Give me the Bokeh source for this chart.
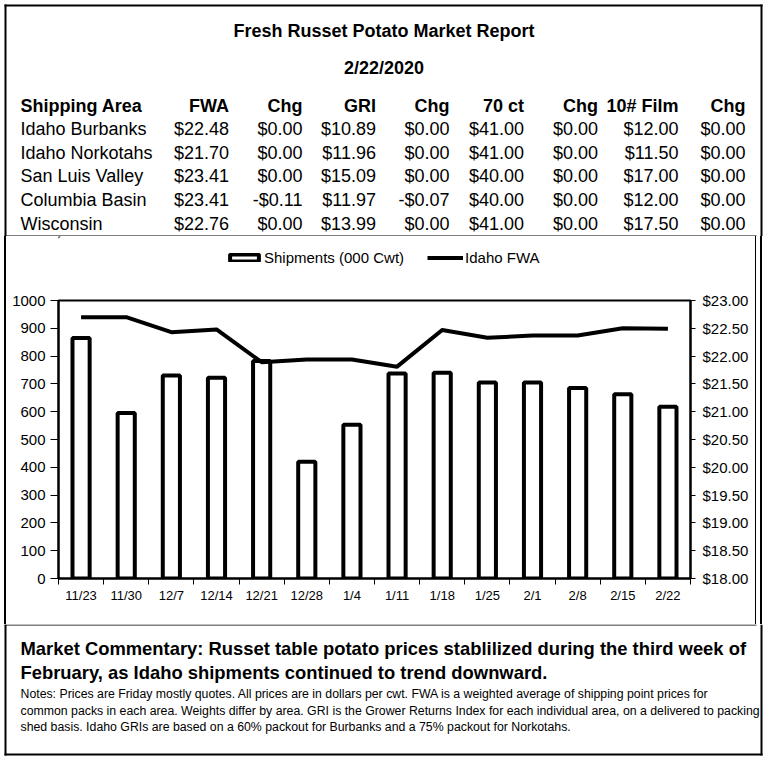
import numpy as np
from bokeh.plotting import figure
from bokeh.layouts import column, row
from bokeh.models import (Range1d, LinearAxis, FixedTicker, NumeralTickFormatter, Legend,
                          LegendItem, Spacer)
from bokeh.core.properties import value
from bokeh.embed import file_html
from bokeh.resources import INLINE

FONT = "Liberation Sans"

# ---------------- data ----------------
report_title = "Fresh Russet Potato Market Report"
report_date = "2/22/2020"
headers = ["Shipping Area", "FWA", "Chg", "GRI", "Chg", "70 ct", "Chg", "10# Film", "Chg"]
areas = ["Idaho Burbanks", "Idaho Norkotahs", "San Luis Valley", "Columbia Basin", "Wisconsin"]
fwa = [22.48, 21.70, 23.41, 23.41, 22.76]
fwa_chg = [0.00, 0.00, 0.00, -0.11, 0.00]
gri = [10.89, 11.96, 15.09, 11.97, 13.99]
gri_chg = [0.00, 0.00, 0.00, -0.07, 0.00]
ct70 = [41.00, 41.00, 40.00, 40.00, 41.00]
ct70_chg = [0.00, 0.00, 0.00, 0.00, 0.00]
film = [12.00, 11.50, 17.00, 12.00, 17.50]
film_chg = [0.00, 0.00, 0.00, 0.00, 0.00]

weeks = ["11/23", "11/30", "12/7", "12/14", "12/21", "12/28", "1/4",
         "1/11", "1/18", "1/25", "2/1", "2/8", "2/15", "2/22"]
shipments = [865, 595, 730, 722, 782, 420, 553, 737, 740, 705, 705, 685, 663, 618]
idaho_fwa = [22.70, 22.70, 22.43, 22.48, 21.89, 21.94, 21.94, 21.81,
             22.47, 22.33, 22.37, 22.37, 22.50, 22.49]
left_ticks = [0, 100, 200, 300, 400, 500, 600, 700, 800, 900, 1000]
right_ticks = [18.0, 18.5, 19.0, 19.5, 20.0, 20.5, 21.0, 21.5, 22.0, 22.5, 23.0]
series_names = ["Shipments (000 Cwt)", "Idaho FWA"]

commentary = ["Market Commentary: Russet table potato prices stablilized during the third week of",
              "February, as Idaho shipments continued to trend downward."]
notes = ["Notes: Prices are Friday mostly quotes. All prices are in dollars per cwt. FWA is a weighted average of shipping point prices for",
         "common packs in each area. Weights differ by area. GRI is the Grower Returns Index for each individual area, on a delivered to packing",
         "shed basis. Idaho GRIs are based on a 60% packout for Burbanks and a 75% packout for Norkotahs."]


def money(v):
    return "-$%.2f" % (-v) if v < 0 else "$%.2f" % v


def panel(w, h):
    p = figure(width=w, height=h, x_range=Range1d(0, w), y_range=Range1d(h, 0),
               output_backend="svg", toolbar_location=None, min_border=0,
               x_axis_type=None, y_axis_type=None)
    p.outline_line_color = None
    p.background_fill_color = "white"
    p.border_fill_color = "white"
    return p


def txt(p, xs, ys, texts, size, bold=False, align="left"):
    p.text(x=xs, y=ys, text=texts, text_font=value(FONT), text_font_size=size,
           text_font_style="bold" if bold else "normal", text_align=align,
           text_baseline="middle", text_color="black")


W = 765
BAR_STYLE = dict(fill_color="white", line_color="black", line_width=4)
LINE_STYLE = dict(line_color="black", line_width=4, line_join="round")

# ---------------- top: title + table ----------------
TOP_H = 236
top = panel(W, TOP_H)
top.quad(left=[4, 4, 760, 4], right=[762, 6, 762, 756], top=[4, 4, 4, TOP_H - 1],
         bottom=[6, TOP_H, TOP_H, TOP_H], fill_color="black", line_color=None)
txt(top, [383.5], [30], [report_title], "18px", True, "center")
txt(top, [383.5], [67], [report_date], "18px", True, "center")

col_x = [20, 228.5, 302, 375.5, 449, 523.5, 597.5, 678, 745]
row_y = [128.5, 152.2, 175.9, 199.6, 223.3]
header_y = 105.5
txt(top, [col_x[0]], [header_y], [headers[0]], "18px", True, "left")
txt(top, col_x[1:], [header_y] * 8, headers[1:], "18px", True, "right")
txt(top, [col_x[0]] * len(areas), row_y, areas, "18px", False, "left")
for j, series in enumerate([fwa, fwa_chg, gri, gri_chg, ct70, ct70_chg, film, film_chg]):
    txt(top, [col_x[j + 1]] * len(series), row_y, [money(v) for v in series], "18px", False, "right")

# ---------------- middle: legend + chart ----------------
MID_H = 388
CW = 749
LEG_H = 52

# legend panel: proxy glyphs kept outside the visible range, used only for the legend swatches
leg_fig = panel(CW, LEG_H)
leg_bar = leg_fig.vbar(x=[-500], top=[-500], bottom=[-500], width=1, **BAR_STYLE)
leg_line = leg_fig.line(x=[-500, -490], y=[-500, -500], **LINE_STYLE)
legend = Legend(items=[LegendItem(label=series_names[0], renderers=[leg_bar]),
                       LegendItem(label=series_names[1], renderers=[leg_line])],
                orientation="horizontal", location=(168, 21), border_line_color=None,
                background_fill_alpha=0, label_text_font=FONT, label_text_font_size="15px",
                label_text_color="black", glyph_width=36, glyph_height=9, label_height=20,
                label_standoff=2, spacing=23, padding=0, margin=0)
leg_fig.add_layout(legend)

n = len(weeks)
xs = [float(v) for v in (np.arange(n) + 0.5)]
chart = figure(width=CW, height=MID_H - LEG_H, x_range=Range1d(0, n), y_range=Range1d(0, 1000),
               output_backend="svg", toolbar_location=None,
               min_border_left=52, min_border_right=65, min_border_top=12, min_border_bottom=46)
chart.extra_y_ranges = {"fwa": Range1d(18, 23)}
chart.grid.visible = False
chart.background_fill_color = "white"
chart.border_fill_color = "white"
chart.outline_line_color = "black"
chart.outline_line_width = 2

chart.vbar(x=xs, top=shipments, bottom=0, width=0.38, **BAR_STYLE)
chart.line(x=xs, y=idaho_fwa, y_range_name="fwa", **LINE_STYLE)

xa = chart.xaxis[0]
xa.ticker = FixedTicker(ticks=xs, minor_ticks=list(range(n + 1)))
xa.major_label_overrides = {x: w for x, w in zip(xs, weeks)}
xa.major_tick_line_color = None
xa.minor_tick_line_color = "black"
xa.minor_tick_out = 6
xa.minor_tick_in = 0
xa.major_label_standoff = 3
xa.major_label_text_font = FONT
xa.major_label_text_font_size = "13px"
xa.major_label_text_color = "black"
xa.axis_line_color = "black"
xa.axis_line_width = 2

ya = chart.yaxis[0]
ya.ticker = FixedTicker(ticks=left_ticks)
ya.major_tick_out = 8
ya.major_tick_in = 0
ya.minor_tick_line_color = None
ya.major_label_standoff = 5
ya.major_label_text_font = FONT
ya.major_label_text_font_size = "15px"
ya.major_label_text_color = "black"
ya.axis_line_width = 2

ra = LinearAxis(y_range_name="fwa", ticker=FixedTicker(ticks=right_ticks),
                formatter=NumeralTickFormatter(format="$0.00"))
ra.major_tick_out = 5
ra.major_tick_in = 0
ra.minor_tick_line_color = None
ra.major_label_standoff = 7
ra.major_label_text_font = FONT
ra.major_label_text_font_size = "15px"
ra.major_label_text_color = "black"
ra.axis_line_width = 2
chart.add_layout(ra, "right")

chart_col = column(leg_fig, chart, spacing=0)


def strip(w, color=None):
    st = {"background-color": color} if color else {}
    return Spacer(width=w, height=MID_H, styles=st)


mid = row(strip(4), strip(2, "black"), chart_col, strip(1, "black"), strip(4),
          strip(2, "black"), strip(3), spacing=0)

# ---------------- bottom: commentary ----------------
BOT_H = 133
bottom = panel(W, BOT_H)
bottom.quad(left=[4, 4, 760, 4], right=[756, 6, 762, 762], top=[0, 0, 0, 129],
            bottom=[1, 131, 131, 131], fill_color="black", line_color=None)
txt(bottom, [20] * 2, [24.3, 47.7], commentary, "18.4px", True, "left")
txt(bottom, [20] * 3, [69.3, 86, 102], notes, "12.3px", False, "left")

page = column(top, mid, bottom, spacing=0)
open("out.html", "w").write(file_html(page, INLINE, title="Fresh Russet Potato Market Report"))
